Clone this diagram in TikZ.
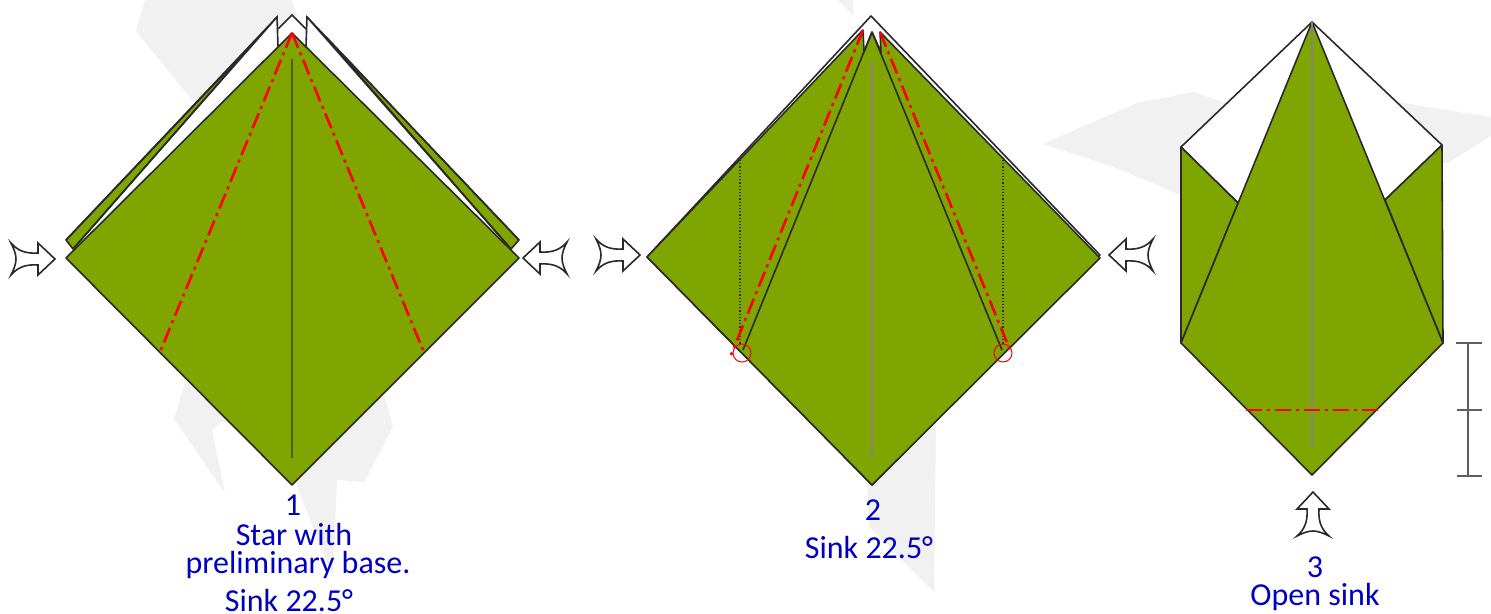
\documentclass[tikz,border=0pt]{standalone}
\usepackage{fontspec}
\setmainfont{Carlito}
\definecolor{paperfront}{HTML}{80A500}
\definecolor{paperedge}{HTML}{2A2A2A}
\definecolor{foldred}{HTML}{FF0000}
\definecolor{stepblue}{HTML}{0000C0}
\definecolor{ghostgray}{HTML}{F1F1F2}
\definecolor{crease}{HTML}{858585}
\definecolor{creasedark}{HTML}{4F6000}
\definecolor{rulergray}{HTML}{5F5F5F}
\usetikzlibrary{positioning}
\tikzset{
  paper/.style={fill=paperfront,draw=paperedge,line width=1.6pt,line join=round},
  blank/.style={fill=white,draw=paperedge,line width=1.6pt,line join=round},
  edge/.style={draw=paperedge,line width=1.6pt},
  sinkline/.style={draw=foldred,line width=2.6pt,dash pattern=on 16pt off 5pt on 3pt off 5pt},
  ringmark/.style={draw=foldred,line width=1pt},
  ruler/.style={draw=rulergray,line width=1.2pt},
  steptext/.style={text=stepblue,font=\fontsize{32}{32}\selectfont,inner sep=0pt,
    text height=20pt,text depth=0pt},
  pics/pusharrow/.style={code={
    \draw[fill=white,draw=paperedge,line width=1.6pt,line join=miter]
      (0,0) -- (-17,-16) -- (-17,-6) .. controls (-30,-5) and (-38,-9) .. (-44,-16)
      .. controls (-41,-10) and (-39,-5) .. (-39,0)
      .. controls (-39,5) and (-41,10) .. (-44,16)
      .. controls (-38,9) and (-30,5) .. (-17,6) -- (-17,16) -- cycle;
  }}
}
\begin{document}
\begin{tikzpicture}[x=1pt,y=-1pt]
  \useasboundingbox (0,0) rectangle (1491,613);
  %% Ghost shapes behind the paper
  \fill[ghostgray] (145,0) -- (136,31) -- (201,111) -- (292,100) -- (298,19) -- (292,0) -- cycle;
  \fill[ghostgray] (185,383) -- (174,419) -- (225,493) -- (212,430) -- (221,422) -- (292,440) -- (297,487)
    -- (333,577) -- (337,480) -- (364,482) -- (393,427) -- (385,397) -- cycle;
  \fill[ghostgray] (838,0) -- (853,15) -- (853,0) -- cycle;
  \fill[ghostgray] (867,484) -- (869,527) -- (934,592) -- (936,420) -- (880,440) -- cycle;
  \fill[ghostgray] (1043,144) -- (1137,103) -- (1193,92) -- (1223,102) -- (1300,160) -- (1180,195)
    -- (1162,187) -- (1113,167) -- cycle;
  \fill[ghostgray] (1397,102) -- (1491,117) -- (1491,136) -- (1448,163) -- (1400,170) -- cycle;

  %% Step 1
  \fill[white] (73,249) -- (277,17) -- (278,46) -- (292,33) -- cycle;
  \fill[white] (511,249) -- (307,17) -- (306,46) -- (292,33) -- cycle;
  \fill[white] (278,29) -- (292,15) -- (306,29) -- (306,46) -- (278,46) -- cycle;
  \draw[paper] (66,240) -- (259,37) -- (73,249) -- cycle;
  \draw[paper] (519,240) -- (326,37) -- (511,249) -- cycle;
  \draw[edge,line join=miter] (66,240) -- (277,17) -- (278,46);
  \draw[edge,line join=miter] (73,249) -- (277,17);
  \draw[edge,line join=miter] (519,240) -- (307,17) -- (306,46);
  \draw[edge,line join=miter] (511,249) -- (307,17);
  \draw[edge] (278,29) -- (292,15) -- (306,29);
  \draw[paper] (292,33) -- (66,258) -- (292,485) -- (519,258) -- cycle;
  \draw[creasedark,line width=1.8pt] (292,59) -- (292,458);
  \draw[sinkline] (292,33) -- (160,352);
  \draw[sinkline] (292,33) -- (423,350);
  \pic at (55,259) {pusharrow};
  \pic[rotate=180] at (523,258) {pusharrow};
  \node[steptext] (numa) at (293,505) {1};
  \node[steptext] (capa) at (294,535) {Star with};
  \node[steptext] (capb) at (298,563) {preliminary base.};
  \node[steptext] (capc) at (289,601) {Sink 22.5°};

  %% Step 2
  \draw[blank] (871,16) -- (647,257) -- (872,485) -- (1100,255) -- cycle;
  \draw[paper] (863,30) -- (864,52) -- (872,32) -- (881,52) -- (880,32) -- (1100,258)
    -- (872,485) -- (647,257) -- cycle;
  \draw[edge] (872,32) -- (743,350);
  \draw[edge] (872,32) -- (1002,350);
  \draw[crease,line width=1.2pt] (872,60) -- (872,458);
  \draw[paperedge,line width=1.2pt,dotted] (740,160) -- (740,345);
  \draw[paperedge,line width=1.2pt,dotted] (1003,160) -- (1003,345);
  \draw[sinkline] (863,30) -- (731,355);
  \draw[sinkline] (880,32) -- (1010,350);
  \draw[ringmark] (742,353) circle (9);
  \draw[ringmark] (1003,353) circle (9);
  \pic at (640,255) {pusharrow};
  \pic[rotate=180] at (1109,255) {pusharrow};
  \node[steptext] (numb) at (873,510) {2};
  \node[steptext] (capd) at (869,548) {Sink 22.5°};

  %% Step 3
  \draw[blank] (1312,22) -- (1181,147) -- (1238,203) -- (1312,300) -- (1385,200) -- (1442,145) -- cycle;
  \draw[paper] (1181,147) -- (1238,203) -- (1181,343) -- cycle;
  \draw[paper] (1442,145) -- (1385,200) -- (1443,343) -- cycle;
  \draw[paper] (1312,22) -- (1181,343) -- (1312,475) -- (1443,343) -- cycle;
  \draw[crease,line width=1.2pt] (1312,22) -- (1312,448);
  \draw[sinkline] (1246,410) -- (1378,410);
  \draw[ruler] (1468,343) -- (1468,476);
  \draw[ruler] (1456,343) -- (1482,343);
  \draw[ruler] (1457,410) -- (1482,410);
  \draw[ruler] (1457,476) -- (1482,476);
  \pic[rotate=90] at (1313,492) {pusharrow};
  \node[steptext] (numc) at (1315,567) {3};
  \node[steptext] (cape) at (1315,595) {Open sink};
\end{tikzpicture}
\end{document}
